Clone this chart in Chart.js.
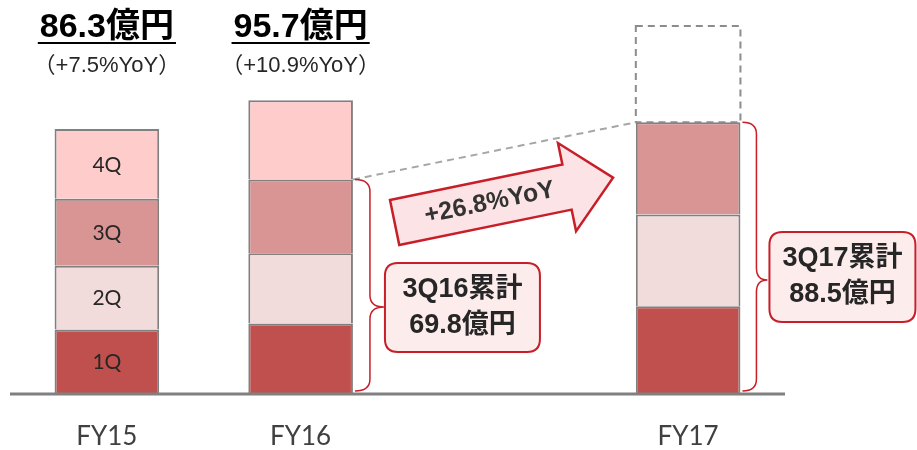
<!DOCTYPE html>
<html>
<head>
<meta charset="utf-8">
<script src="https://cdn.jsdelivr.net/npm/chart.js@4.4.0/dist/chart.umd.min.js"></script>
<style>
  body { margin: 0; background: #fff; }
  canvas { display: block; }
</style>
</head>
<body>
<canvas id="salesChart" width="917" height="450"></canvas>
<script>
// --- données (億円) ---
const categories = ['FY15', 'FY16', '', 'FY17'];
const q1 = [20.8, 22.7, null, 28.4];
const q2 = [20.8, 23.0, null, 30.0];
const q3 = [21.9, 24.1, null, 30.1];
const q4 = [22.8, 25.9, null, null];
const q4Plan = [null, null, null, 31.5];
const quarterLabels = ['1Q', '2Q', '3Q', '4Q'];
const yoyLabels = ['（+7.5%YoY）', '（+10.9%YoY）'];
const cumLabels = ['3Q16累計', '3Q17累計'];

const colors = ['#C0504D', '#F2DCDB', '#D99594', '#FFCCCC'];
const edge = '#808080';
const red = '#C81E28';
const jpFont = '"Liberation Sans", "Noto Sans CJK JP", sans-serif';

function sum(arr) { return arr.reduce((a, b) => a + (b || 0), 0); }

function roundRect(ctx, x, y, w, h, r) {
    ctx.beginPath();
    ctx.moveTo(x + r, y);
    ctx.lineTo(x + w - r, y);
    ctx.quadraticCurveTo(x + w, y, x + w, y + r);
    ctx.lineTo(x + w, y + h - r);
    ctx.quadraticCurveTo(x + w, y + h, x + w - r, y + h);
    ctx.lineTo(x + r, y + h);
    ctx.quadraticCurveTo(x, y + h, x, y + h - r);
    ctx.lineTo(x, y + r);
    ctx.quadraticCurveTo(x, y, x + r, y);
    ctx.closePath();
}

// accolade verticale, pointe à droite
function drawBrace(ctx, x0, yTop, yBot, xv, tipX, tipY) {
    const r = 12;
    ctx.beginPath();
    ctx.moveTo(x0, yTop);
    ctx.quadraticCurveTo(xv, yTop, xv, yTop + r);
    ctx.lineTo(xv, tipY - r);
    ctx.quadraticCurveTo(xv, tipY, tipX, tipY);
    ctx.quadraticCurveTo(xv, tipY, xv, tipY + r);
    ctx.lineTo(xv, yBot - r);
    ctx.quadraticCurveTo(xv, yBot, x0, yBot);
    ctx.strokeStyle = red;
    ctx.lineWidth = 1.5;
    ctx.stroke();
}

function drawBox(ctx, x, y, w, h, line1, line2) {
    roundRect(ctx, x, y, w, h, 13);
    ctx.fillStyle = '#FDECEC';
    ctx.fill();
    ctx.strokeStyle = red;
    ctx.lineWidth = 2;
    ctx.stroke();
    ctx.fillStyle = '#262626';
    ctx.font = 'bold 27px ' + jpFont;
    ctx.textAlign = 'center';
    ctx.textBaseline = 'alphabetic';
    ctx.fillText(line1, x + w / 2, y + 34);
    ctx.fillText(line2, x + w / 2, y + 70);
}

const annotate = {
    id: 'annotate',
    afterDatasetsDraw(chart) {
        const ctx = chart.ctx;
        const xs = chart.scales.x, ys = chart.scales.y;
        const base = ys.getPixelForValue(0);
        const el = (ds, i) => chart.getDatasetMeta(ds).data[i];
        ctx.save();

        // ligne de base
        ctx.strokeStyle = edge;
        ctx.lineWidth = 3;
        ctx.beginPath();
        ctx.moveTo(chart.chartArea.left, base + 1);
        ctx.lineTo(chart.chartArea.right, base + 1);
        ctx.stroke();

        // libellés des exercices
        ctx.fillStyle = '#404040';
        ctx.font = '26px Lato';
        ctx.textAlign = 'center';
        ctx.textBaseline = 'alphabetic';
        categories.forEach((c, i) => {
            if (c) ctx.fillText(c, xs.getPixelForValue(i), 445);
        });

        // 1Q..4Q dans la barre FY15
        ctx.fillStyle = '#262626';
        ctx.font = '21px Lato';
        ctx.textBaseline = 'middle';
        quarterLabels.forEach((q, d) => {
            const b = el(d, 0);
            ctx.fillText(q, b.x, (b.y + b.base) / 2 + 1);
        });

        // totaux annuels
        [0, 1].forEach(i => {
            const total = sum([q1[i], q2[i], q3[i], q4[i]]).toFixed(1) + '億円';
            const x = xs.getPixelForValue(i);
            ctx.fillStyle = '#000';
            ctx.font = 'bold 34px ' + jpFont;
            ctx.textBaseline = 'alphabetic';
            ctx.fillText(total, x, 37);
            const w = ctx.measureText(total).width + 4;
            ctx.fillRect(x - w / 2, 42, w, 2);
            ctx.fillStyle = '#262626';
            ctx.font = '22px ' + jpFont;
            ctx.fillText(yoyLabels[i], x, 72);
        });

        // prévision FY17 en pointillés
        const plan = el(4, 3);
        ctx.setLineDash([7, 5]);
        ctx.strokeStyle = '#8C8C8C';
        ctx.lineWidth = 2;
        ctx.strokeRect(plan.x - plan.width / 2, plan.y, plan.width, plan.base - plan.y);

        // ligne pointillée 3Q16 -> 3Q17
        const a = el(2, 1), b = el(2, 3);
        ctx.strokeStyle = '#A6A6A6';
        ctx.beginPath();
        ctx.moveTo(a.x + a.width / 2, a.y);
        ctx.lineTo(b.x - b.width / 2, b.y);
        ctx.stroke();
        ctx.setLineDash([]);

        // accolades + encadrés cumul 3Q
        const cum16 = sum([q1[1], q2[1], q3[1]]);
        const cum17 = sum([q1[3], q2[3], q3[3]]);
        const r16 = a.x + a.width / 2;
        drawBrace(ctx, r16 + 2, a.y, base - 2, r16 + 17, r16 + 31, 307);
        drawBox(ctx, r16 + 32, 263, 155, 89, cumLabels[0], cum16.toFixed(1) + '億円');
        const r17 = b.x + b.width / 2;
        drawBrace(ctx, r17 + 2, b.y, base - 2, r17 + 16, r17 + 27, 280);
        drawBox(ctx, r17 + 29, 232, 146, 90, cumLabels[1], cum17.toFixed(1) + '億円');

        // flèche de croissance
        const growth = ((cum17 / cum16 - 1) * 100).toFixed(1);
        const L = 223, h = 47, sw = 23, hw = 45;
        ctx.translate(a.x + 94, 222.5);
        ctx.rotate(-11.6 * Math.PI / 180);
        ctx.beginPath();
        ctx.moveTo(0, -sw);
        ctx.lineTo(L - h, -sw);
        ctx.lineTo(L - h, -hw);
        ctx.lineTo(L, 0);
        ctx.lineTo(L - h, hw);
        ctx.lineTo(L - h, sw);
        ctx.lineTo(0, sw);
        ctx.closePath();
        ctx.fillStyle = '#FCE4E6';
        ctx.fill();
        ctx.strokeStyle = red;
        ctx.lineWidth = 2.5;
        ctx.lineJoin = 'miter';
        ctx.stroke();
        ctx.fillStyle = '#333';
        ctx.font = 'bold 25px "Liberation Sans"';
        ctx.textBaseline = 'middle';
        ctx.fillText('+' + growth + '%YoY', 97, 0);

        ctx.restore();
    }
};

const mkSet = (label, data, color) => ({
    label: label,
    data: data,
    backgroundColor: color,
    borderColor: edge,
    borderWidth: 2,
    barPercentage: 0.54,
    categoryPercentage: 1
});

new Chart(document.getElementById('salesChart'), {
    type: 'bar',
    data: {
        labels: categories,
        datasets: [
            mkSet('1Q', q1, colors[0]),
            mkSet('2Q', q2, colors[1]),
            mkSet('3Q', q3, colors[2]),
            mkSet('4Q', q4, colors[3]),
            { ...mkSet('4Q予想', q4Plan, 'rgba(0,0,0,0)'), borderWidth: 0 }
        ]
    },
    options: {
        responsive: false,
        animation: false,
        layout: { padding: { top: 26, bottom: 57, left: 10, right: 132 } },
        plugins: { legend: { display: false }, tooltip: { enabled: false } },
        scales: {
            x: { stacked: true, display: false },
            y: { stacked: true, display: false, min: 0, max: 120 }
        }
    },
    plugins: [annotate]
});
</script>
</body>
</html>
